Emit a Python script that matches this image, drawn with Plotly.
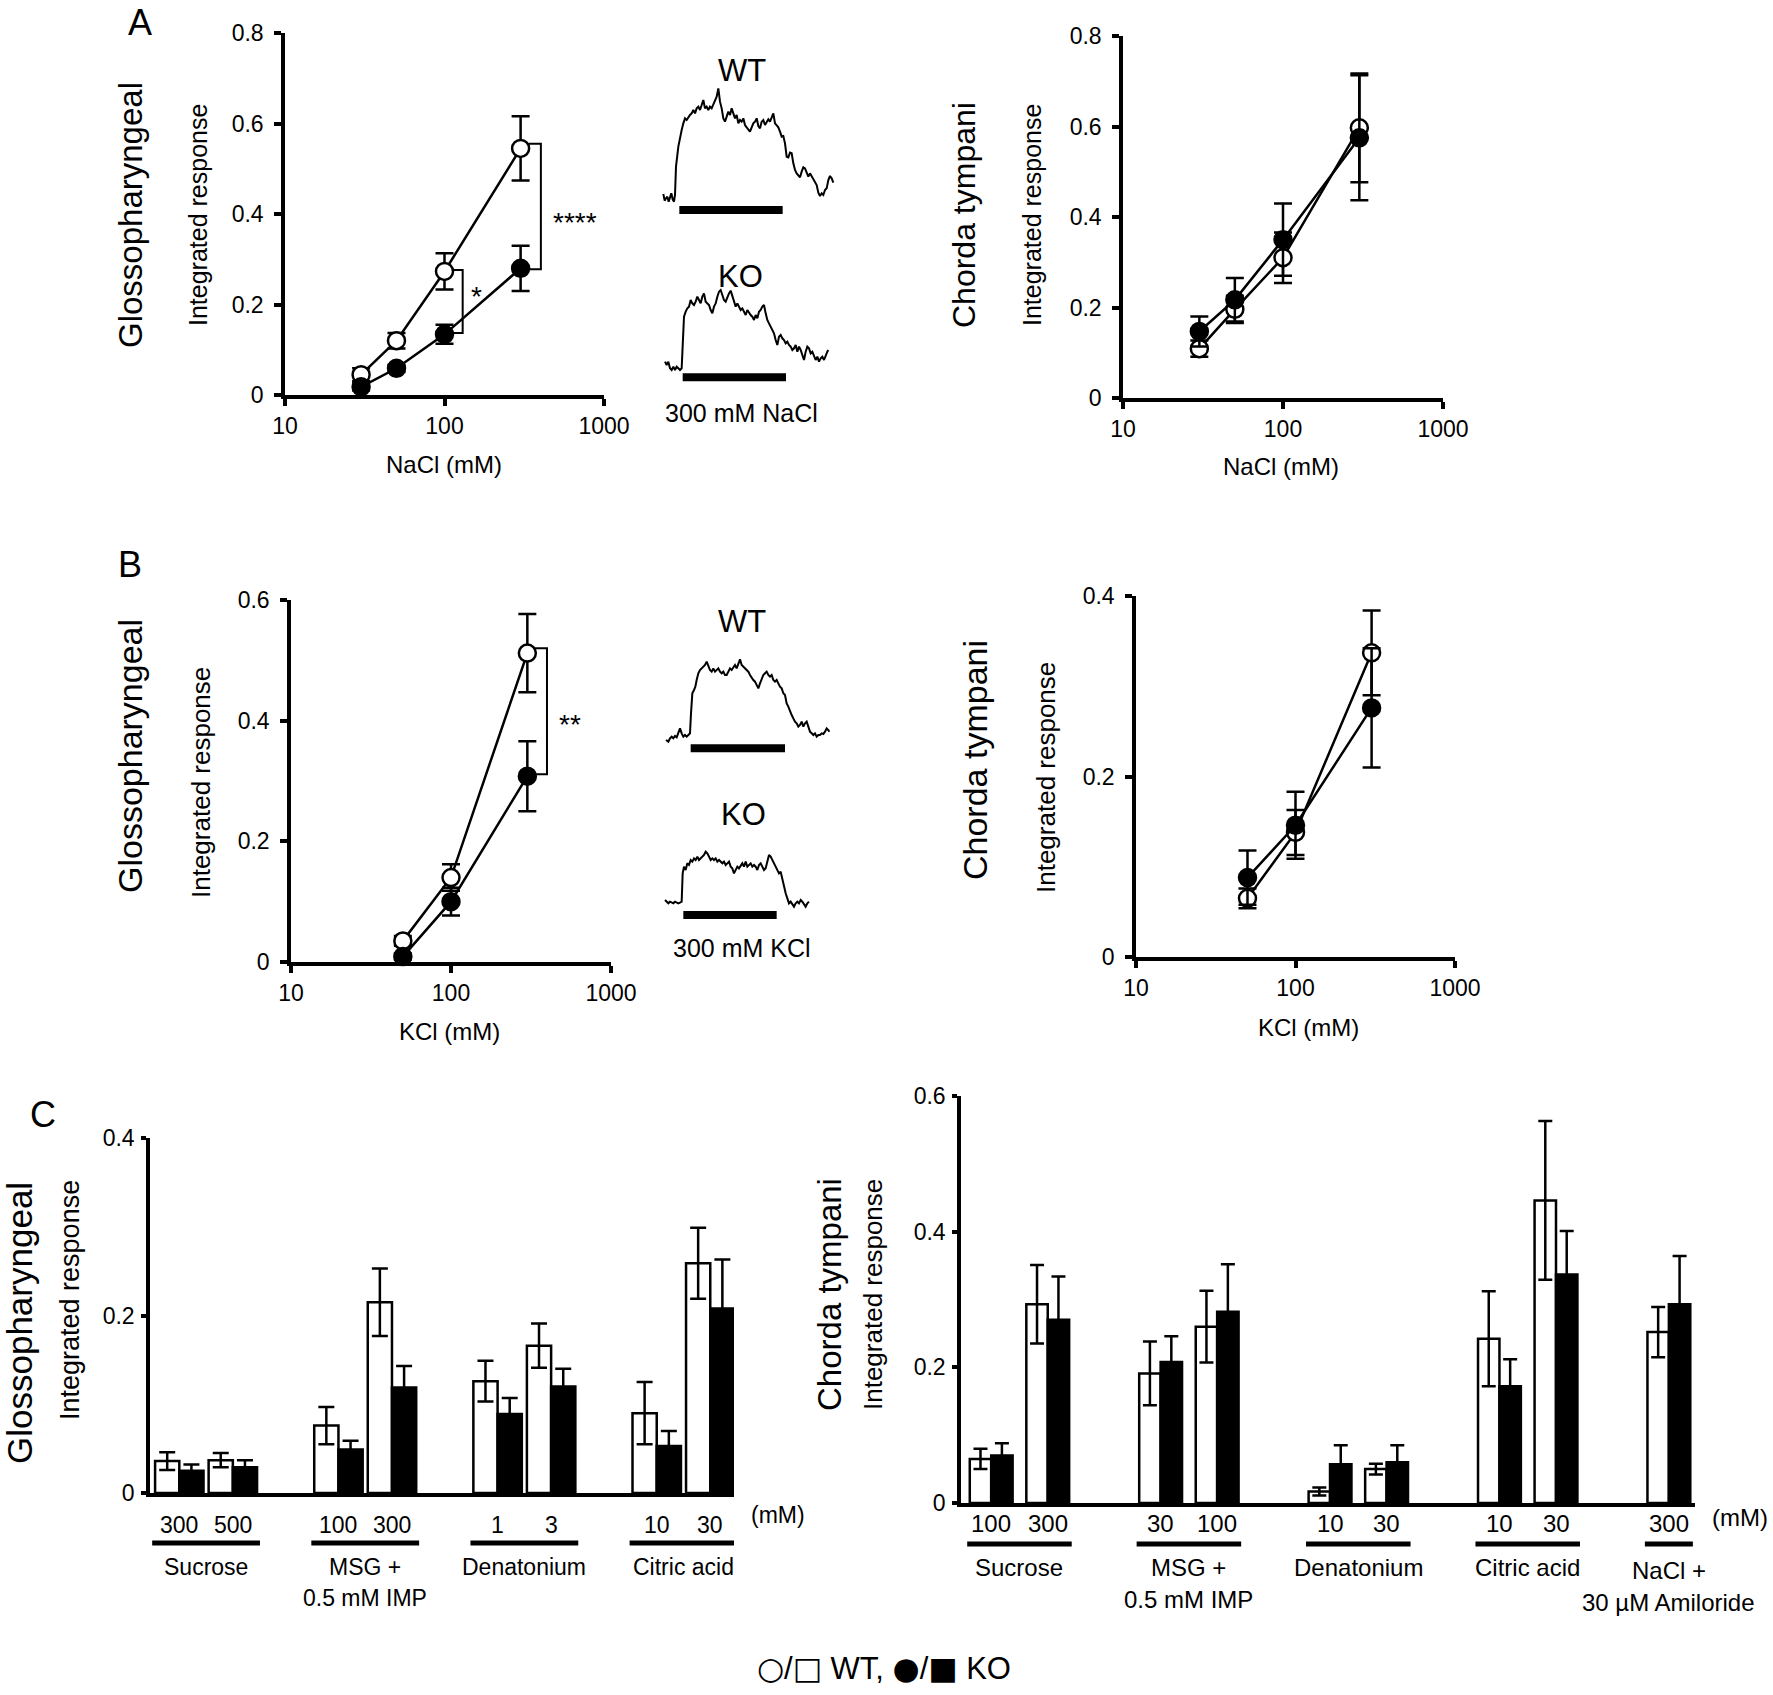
import math
import plotly.graph_objects as go

W, H = 1773, 1695
FONT = "Liberation Sans, Arial, Helvetica, sans-serif"
SYM = "DejaVu Sans"


def fx(p):
    return p / W


def fy(p):
    return 1 - p / H


# ---------------- A: NaCl concentration-response ----------------
nacl_mM = [30, 50, 100, 300]
gp_nacl_wt = [0.045, 0.12, 0.273, 0.545]
gp_nacl_wt_sem = [0.014, 0.017, 0.04, 0.071]
gp_nacl_ko = [0.018, 0.059, 0.134, 0.28]
gp_nacl_ko_sem = [0.008, 0.008, 0.021, 0.05]
ct_nacl_wt = [0.109, 0.196, 0.31, 0.597]
ct_nacl_wt_sem = [0.018, 0.03, 0.056, 0.12]
ct_nacl_ko = [0.147, 0.217, 0.35, 0.575]
ct_nacl_ko_sem = [0.033, 0.048, 0.08, 0.138]

# ---------------- B: KCl concentration-response ----------------
kcl_mM = [50, 100, 300]
gp_kcl_wt = [0.035, 0.14, 0.512]
gp_kcl_wt_sem = [0.008, 0.022, 0.065]
gp_kcl_ko = [0.009, 0.1, 0.308]
gp_kcl_ko_sem = [0.005, 0.023, 0.058]
ct_kcl_wt = [0.065, 0.138, 0.337]
ct_kcl_wt_sem = [0.011, 0.025, 0.047]
ct_kcl_ko = [0.088, 0.146, 0.276]
ct_kcl_ko_sem = [0.03, 0.037, 0.066]

# significance brackets: (x in mM, y in response)
gp_nacl_brackets = [([336, 402, 402, 336], [0.555, 0.555, 0.278, 0.278]),
                    ([111, 130, 130, 111], [0.276, 0.276, 0.137, 0.137])]
gp_nacl_stars = [("****", 656, 0.40), ("*", 159, 0.238)]
gp_kcl_brackets = [([331, 398, 398, 331], [0.52, 0.52, 0.311, 0.311])]
gp_kcl_stars = [("**", 554, 0.408)]

# ---------------- C: other taste stimuli ----------------
gp_groups = [["Sucrose"], ["MSG +", "0.5 mM IMP"], ["Denatonium"], ["Citric acid"]]
gp_conc = [["300", "500"], ["100", "300"], ["1", "3"], ["10", "30"]]
gp_wt = [0.036, 0.037, 0.076, 0.215, 0.126, 0.166, 0.09, 0.259]
gp_wt_sem = [0.01, 0.008, 0.021, 0.038, 0.023, 0.025, 0.035, 0.04]
gp_ko = [0.025, 0.029, 0.049, 0.119, 0.089, 0.12, 0.053, 0.208]
gp_ko_sem = [0.007, 0.008, 0.01, 0.024, 0.018, 0.02, 0.017, 0.055]

ct_groups = [["Sucrose"], ["MSG +", "0.5 mM IMP"], ["Denatonium"], ["Citric acid"],
             ["NaCl +", "30 µM Amiloride"]]
ct_conc = [["100", "300"], ["30", "100"], ["10", "30"], ["10", "30"], ["300"]]
ct_wt = [0.065, 0.293, 0.191, 0.26, 0.017, 0.05, 0.242, 0.446, 0.252]
ct_wt_sem = [0.015, 0.058, 0.047, 0.053, 0.006, 0.008, 0.07, 0.117, 0.037]
ct_ko = [0.07, 0.27, 0.208, 0.282, 0.057, 0.06, 0.172, 0.337, 0.293]
ct_ko_sem = [0.018, 0.064, 0.038, 0.07, 0.028, 0.025, 0.04, 0.064, 0.071]

nacl_wt_time = [70, 74, 78, 82, 86, 90, 94, 98, 102, 105, 108, 115, 120, 125, 130, 135, 140, 145, 150, 155,
                160, 165, 170, 175, 180, 185, 190, 195, 200, 205, 210, 215, 220, 225, 230, 235, 240, 245,
                250, 255, 260, 265, 270, 275, 280, 285, 290, 295, 300, 305, 310, 315, 320, 325, 330, 335,
                340, 345, 350, 355, 360, 365, 370, 375, 380, 385, 390, 395, 400, 405, 410, 415, 420, 425,
                430, 435, 440, 445, 450, 455, 460, 465, 470, 475, 480, 485, 490, 495, 500, 505, 510, 515,
                520, 525, 530, 535, 540, 545, 550, 555, 560, 565, 570, 575, 580]
nacl_wt_level = [462, 482, 475, 470, 485, 472, 460, 478, 485, 465, 380, 320, 290, 270, 250, 235, 240, 230, 225, 220,
                 210, 220, 205, 200, 210, 195, 180, 205, 200, 210, 200, 205, 195, 185, 170, 145, 185, 205,
                 235, 245, 230, 215, 225, 205, 220, 235, 225, 250, 240, 245, 235, 255, 262, 268, 275, 262,
                 250, 245, 235, 258, 265, 245, 240, 255, 245, 238, 245, 230, 220, 250, 255, 262, 275, 290,
                 288, 310, 350, 352, 338, 340, 370, 390, 400, 408, 412, 395, 382, 385, 398, 410, 400, 408,
                 418, 425, 435, 458, 468, 460, 465, 450, 445, 420, 408, 415, 428]
nacl_ko_time = [75, 80, 85, 90, 95, 100, 105, 110, 115, 120, 125, 128, 132, 137, 142, 147, 152, 157, 162, 167,
                172, 177, 182, 187, 192, 197, 202, 207, 212, 217, 222, 227, 232, 237, 242, 247, 252, 257, 262,
                267, 272, 277, 282, 287, 292, 297, 302, 307, 312, 317, 322, 327, 332, 337, 342, 347, 352, 357,
                362, 367, 372, 377, 382, 387, 392, 397, 402, 407, 412, 417, 422, 427, 432, 437, 442, 447, 452,
                457, 462, 467, 472, 477, 482, 487, 492, 497, 502, 507, 512, 517, 522, 527, 532, 537, 542, 547,
                552, 557, 562, 565]
nacl_ko_level = [965, 975, 965, 985, 990, 980, 990, 980, 985, 990, 985, 900, 830, 815, 805, 800, 780, 790, 795, 785,
                 770, 780, 790, 770, 760, 785, 790, 795, 810, 820, 800, 790, 770, 755, 750, 765, 780, 785, 770,
                 760, 752, 770, 780, 800, 790, 800, 810, 805, 815, 825, 810, 820, 825, 830, 840, 825, 835, 815,
                 810, 800, 795, 820, 840, 850, 860, 870, 880, 900, 915, 890, 885, 895, 900, 910, 905, 915, 920,
                 930, 925, 915, 935, 920, 930, 945, 960, 935, 920, 925, 940, 935, 945, 960, 950, 965, 955, 950,
                 960, 945, 935, 930]
kcl_wt_time = [78, 85, 90, 95, 100, 105, 110, 115, 120, 125, 130, 135, 140, 145, 150, 153, 157, 162, 166, 170,
               175, 180, 185, 190, 195, 200, 205, 210, 215, 220, 225, 230, 235, 240, 245, 250, 255, 260, 265,
               270, 275, 280, 285, 290, 295, 300, 305, 310, 315, 320, 325, 330, 335, 340, 345, 350, 355, 360,
               365, 370, 375, 380, 385, 390, 395, 400, 405, 410, 415, 420, 425, 430, 435, 440, 445, 450, 455,
               460, 465, 470, 475, 480, 485, 490, 495, 500, 505, 510, 515, 520, 525, 530, 535, 540, 545, 550,
               555, 560, 565, 568]
kcl_wt_level = [480, 485, 475, 470, 475, 468, 472, 460, 445, 460, 470, 465, 470, 465, 460, 400, 340, 330, 320, 300,
                280, 270, 265, 260, 255, 245, 260, 270, 275, 265, 275, 270, 265, 275, 280, 275, 285, 285, 275,
                265, 270, 260, 255, 265, 250, 238, 255, 260, 265, 270, 275, 285, 295, 300, 305, 315, 325, 310,
                295, 285, 280, 275, 285, 290, 285, 300, 305, 300, 310, 320, 325, 340, 345, 370, 380, 395, 405,
                415, 425, 430, 440, 435, 425, 440, 430, 425, 440, 455, 460, 465, 460, 470, 465, 465, 460, 462,
                455, 445, 450, 455]
kcl_ko_time = [75, 80, 85, 90, 95, 100, 105, 110, 115, 120, 125, 128, 132, 137, 142, 147, 152, 157, 162, 167,
               172, 177, 182, 187, 192, 197, 202, 207, 212, 217, 222, 227, 232, 237, 242, 247, 252, 257, 262,
               267, 272, 277, 282, 287, 292, 297, 302, 307, 312, 317, 322, 327, 332, 337, 342, 347, 352, 357,
               362, 367, 372, 377, 382, 387, 392, 397, 402, 407, 412, 417, 422, 427, 432, 437, 442, 447, 452,
               457, 462, 467, 472, 477, 482, 487, 492, 497, 502, 507]
kcl_ko_level = [960, 965, 970, 965, 968, 970, 965, 968, 970, 968, 965, 880, 860, 870, 850, 855, 840, 845, 835, 840,
                830, 840, 835, 830, 825, 815, 820, 830, 840, 835, 840, 835, 845, 840, 845, 850, 845, 855, 850,
                845, 860, 865, 880, 870, 860, 865, 855, 850, 860, 845, 860, 855, 850, 860, 855, 860, 870, 855,
                850, 860, 870, 865, 840, 825, 830, 840, 850, 865, 870, 880, 875, 900, 920, 940, 955, 970, 965,
                975, 980, 970, 965, 970, 960, 965, 975, 980, 970, 965]
# stimulus application periods (start, end, drawn level)
nacl_stim = [(118, 428, 510), (128, 438, 1012)]
kcl_stim = [(152, 435, 505), (130, 410, 1005)]

# ---------------- figure ----------------
fig = go.Figure()
annotations = []
shapes = []

BLACK = "black"
LW = 2.5


def note(text, x, y, xref, yref, size, angle=0, family=FONT, yshift=0, xanchor="center"):
    annotations.append(dict(text=text, x=x, y=y, xref=xref, yref=yref, showarrow=False,
                            xanchor=xanchor, yanchor="middle", textangle=angle, yshift=yshift,
                            font=dict(size=size, family=family, color=BLACK)))


def add_dose(xa, ya, conc, wt, wt_sem, ko, ko_sem):
    for vals, sem, fill in [(wt, wt_sem, "white"), (ko, ko_sem, BLACK)]:
        fig.add_trace(go.Scatter(
            x=conc, y=vals, xaxis=xa, yaxis=ya, mode="lines+markers", cliponaxis=False,
            line=dict(color=BLACK, width=LW),
            marker=dict(symbol="circle", size=17, color=fill, line=dict(color=BLACK, width=2.5)),
            error_y=dict(type="data", array=sem, color=BLACK, thickness=LW, width=9),
            showlegend=False, hoverinfo="skip"))


def add_brackets(xa, ya, brackets, stars, size):
    for bx, by in brackets:
        fig.add_trace(go.Scatter(x=bx, y=by, xaxis=xa, yaxis=ya, mode="lines", cliponaxis=False,
                                 line=dict(color=BLACK, width=2), showlegend=False, hoverinfo="skip"))
    for txt, sx, sy in stars:
        note(txt, math.log10(sx), sy, xa, ya, size, yshift=-9)


add_dose("x", "y", nacl_mM, gp_nacl_wt, gp_nacl_wt_sem, gp_nacl_ko, gp_nacl_ko_sem)
add_brackets("x", "y", gp_nacl_brackets, gp_nacl_stars, 28)
add_dose("x2", "y2", nacl_mM, ct_nacl_wt, ct_nacl_wt_sem, ct_nacl_ko, ct_nacl_ko_sem)
add_dose("x3", "y3", kcl_mM, gp_kcl_wt, gp_kcl_wt_sem, gp_kcl_ko, gp_kcl_ko_sem)
add_brackets("x3", "y3", gp_kcl_brackets, gp_kcl_stars, 28)
add_dose("x4", "y4", kcl_mM, ct_kcl_wt, ct_kcl_wt_sem, ct_kcl_ko, ct_kcl_ko_sem)


def bar_positions(conc_lists, group_step, pair_step):
    wt_x, ko_x, pair_c, spans = [], [], [], []
    for g, concs in enumerate(conc_lists):
        base = g * group_step
        for p in range(len(concs)):
            left = base + p * pair_step
            wt_x.append(left + 0.5)
            ko_x.append(left + 1.5)
            pair_c.append(left + 1.0)
        spans.append((base, base + (len(concs) - 1) * pair_step + 2))
    return wt_x, ko_x, pair_c, spans


def add_bars(xa, ya, conc_lists, groups, wt, wt_sem, ko, ko_sem, gstep, pstep, cap,
             y_conc, y_line, y_names, line2_dy, fsize, mm_pos, name_shift=None):
    wt_x, ko_x, pair_c, spans = bar_positions(conc_lists, gstep, pstep)
    fig.add_trace(go.Bar(x=wt_x, y=wt, width=1, xaxis=xa, yaxis=ya,
                         marker=dict(color="white", line=dict(color=BLACK, width=2.5)),
                         error_y=dict(type="data", array=wt_sem, color=BLACK, thickness=LW, width=cap),
                         showlegend=False, hoverinfo="skip"))
    fig.add_trace(go.Bar(x=ko_x, y=ko, width=1, xaxis=xa, yaxis=ya,
                         marker=dict(color=BLACK, line=dict(color=BLACK, width=2.5)),
                         error_y=dict(type="data", array=ko_sem, color=BLACK, thickness=LW, width=cap),
                         showlegend=False, hoverinfo="skip"))
    labels = [c for cl in conc_lists for c in cl]
    for lab, xc in zip(labels, pair_c):
        note(lab, xc, fy(y_conc), xa, "paper", fsize)
    for g, (s0, s1) in enumerate(spans):
        shapes.append(dict(type="line", xref=xa, yref="paper", x0=s0 - 0.12, x1=s1 + 0.12,
                           y0=fy(y_line), y1=fy(y_line), line=dict(color=BLACK, width=5)))
        xc = (s0 + s1) / 2
        dy = name_shift[g] if name_shift else 0
        for li, line in enumerate(groups[g]):
            note(line, xc, fy(y_names + dy + li * line2_dy), xa, "paper", fsize)
    note("(mM)", fx(mm_pos[0]), fy(mm_pos[1]), "paper", "paper", fsize)


add_bars("x5", "y5", gp_conc, gp_groups, gp_wt, gp_wt_sem, gp_ko, gp_ko_sem, 6.57, 2.21, 8,
         1525, 1543, 1567, 31, 23, (778, 1515))
add_bars("x6", "y6", ct_conc, ct_groups, ct_wt, ct_wt_sem, ct_ko, ct_ko_sem, 7.91, 2.64, 7,
         1523, 1544, 1567, 32, 24, (1740, 1517), name_shift=[0, 0, 0, 0, 3])

# recordings
for xa, ya, pairs, stim in [("x7", "y7", [(nacl_wt_time, nacl_wt_level), (nacl_ko_time, nacl_ko_level)], nacl_stim),
                            ("x8", "y8", [(kcl_wt_time, kcl_wt_level), (kcl_ko_time, kcl_ko_level)], kcl_stim)]:
    for t, v in pairs:
        fig.add_trace(go.Scatter(x=t, y=v, xaxis=xa, yaxis=ya, mode="lines",
                                 line=dict(color=BLACK, width=2), showlegend=False, hoverinfo="skip"))
    for s0, s1, lv in stim:
        shapes.append(dict(type="line", xref=xa, yref=ya, x0=s0, x1=s1, y0=lv, y1=lv,
                           line=dict(color=BLACK, width=8)))

rec_labels = [("x7", "y7", "WT", 305, 90, 31), ("x7", "y7", "KO", 300, 710, 31),
              ("x7", "y7", "300 mM NaCl", 305, 1120, 25),
              ("x8", "y8", "WT", 305, 125, 31), ("x8", "y8", "KO", 310, 705, 31),
              ("x8", "y8", "300 mM KCl", 305, 1105, 25)]
for xa, ya, txt, x, y, s in rec_labels:
    note(txt, x, y, xa, ya, s)

# ---------------- axes ----------------
tickfont = dict(size=23, family=FONT, color=BLACK)
AXW = 3.5


def log_x(dom, anchor):
    return dict(domain=[fx(dom[0]), fx(dom[1])], anchor=anchor, type="log", range=[1, 3],
                tickvals=[10, 100, 1000], ticktext=["10", "100", "1000"], showline=True, linecolor=BLACK,
                linewidth=AXW, ticks="outside", ticklen=7, tickwidth=AXW, tickcolor=BLACK, showgrid=False,
                zeroline=False, tickfont=tickfont, ticklabelstandoff=1, automargin=False)


def lin_y(dom, anchor, top, step, tlen=7, font=tickfont, standoff=6):
    n = int(round(top / step))
    vals = [round(i * step, 2) for i in range(n + 1)]
    text = ["0"] + [f"{v:g}" for v in vals[1:]]
    return dict(domain=[fy(dom[1]), fy(dom[0])], anchor=anchor, range=[0, top], tickvals=vals,
                ticktext=text, showline=True, linecolor=BLACK, linewidth=AXW, ticks="outside",
                ticklen=tlen, tickwidth=AXW, tickcolor=BLACK, showgrid=False, zeroline=False,
                tickfont=font, ticklabelstandoff=standoff, automargin=False)


def bar_x(dom, anchor, rng):
    return dict(domain=[fx(dom[0]), fx(dom[1])], anchor=anchor, range=rng, showline=True,
                linecolor=BLACK, linewidth=AXW, ticks="", showticklabels=False, showgrid=False,
                zeroline=False, automargin=False)


def hidden(dom, rng, horizontal, anchor):
    d = dict(anchor=anchor, range=rng, visible=False, showgrid=False, zeroline=False, automargin=False)
    if horizontal:
        d["domain"] = [fx(dom[0]), fx(dom[1])]
    else:
        d["domain"] = [fy(dom[1]), fy(dom[0])]
    return d


layout = dict(
    width=W, height=H, autosize=False, margin=dict(l=0, r=0, t=0, b=0, pad=0, autoexpand=False),
    paper_bgcolor="white", plot_bgcolor="white", showlegend=False, barmode="overlay",
    font=dict(family=FONT, color=BLACK),
    xaxis=log_x((285, 604), "y"), yaxis=lin_y((33, 395), "x", 0.8, 0.2),
    xaxis2=log_x((1123, 1443), "y2"), yaxis2=lin_y((36, 398), "x2", 0.8, 0.2),
    xaxis3=log_x((291, 611), "y3"), yaxis3=lin_y((600, 962), "x3", 0.6, 0.2),
    xaxis4=log_x((1136, 1455), "y4"), yaxis4=lin_y((596, 957), "x4", 0.4, 0.2),
    xaxis5=bar_x((150, 734), "y5", [-0.21, 23.9]),
    yaxis5=lin_y((1138, 1493), "x5", 0.4, 0.2, 5, dict(size=23, family=FONT, color=BLACK), 2),
    xaxis6=bar_x((961, 1695), "y6", [-0.41, 33.86]),
    yaxis6=lin_y((1096, 1503), "x6", 0.6, 0.2, 5, dict(size=23, family=FONT, color=BLACK), 2),
    xaxis7=hidden((640, 860), [0, 660], True, "y7"), yaxis7=hidden((40, 440), [1200, 0], False, "x7"),
    xaxis8=hidden((640, 860), [0, 660], True, "y8"), yaxis8=hidden((580, 980), [1200, 0], False, "x8"),
)

# axis titles and panel labels
texts = [
    ("NaCl (mM)", 444, 464, 24, 0), ("NaCl (mM)", 1281, 467, 24, 0),
    ("KCl (mM)", 450, 1031, 24, 0), ("KCl (mM)", 1308, 1027, 24, 0),
    ("Glossopharyngeal", 130, 215, 33, -90), ("Integrated response", 198, 215, 25, -90),
    ("Chorda tympani", 964, 215, 32, -90), ("Integrated response", 1032, 215, 25, -90),
    ("Glossopharyngeal", 130, 756, 34, -90), ("Integrated response", 201, 783, 26, -90),
    ("Chorda tympani", 975, 760, 34, -90), ("Integrated response", 1046, 778, 26, -90),
    ("Glossopharyngeal", 19, 1323, 35, -90), ("Integrated response", 70, 1300, 27, -90),
    ("Chorda tympani", 829, 1295, 33, -90), ("Integrated response", 873, 1295, 26, -90),
    ("A", 140, 22, 36, 0), ("B", 130, 565, 36, 0), ("C", 43, 1114, 36, 0),
]
for txt, x, y, s, ang in texts:
    note(txt, fx(x), fy(y), "paper", "paper", s, angle=ang)

legend_txt = (f"<span style='font-family:{SYM}'>○</span>/<span style='font-family:{SYM}'>□</span> WT, "
              f"<span style='font-family:{SYM}'>●</span>/<span style='font-family:{SYM}'>■</span> KO")
note(legend_txt, fx(884), fy(1668), "paper", "paper", 31)

layout["annotations"] = annotations
layout["shapes"] = shapes
fig.update_layout(**layout)
fig.write_html(
    "out.html",
    config={"displayModeBar": False, "responsive": False},
    post_script=("document.documentElement.style.margin='0';document.documentElement.style.padding='0';"
                 "document.body.style.margin='0';document.body.style.padding='0';"
                 "document.documentElement.style.overflow='hidden';document.body.style.overflow='hidden';"),
)
